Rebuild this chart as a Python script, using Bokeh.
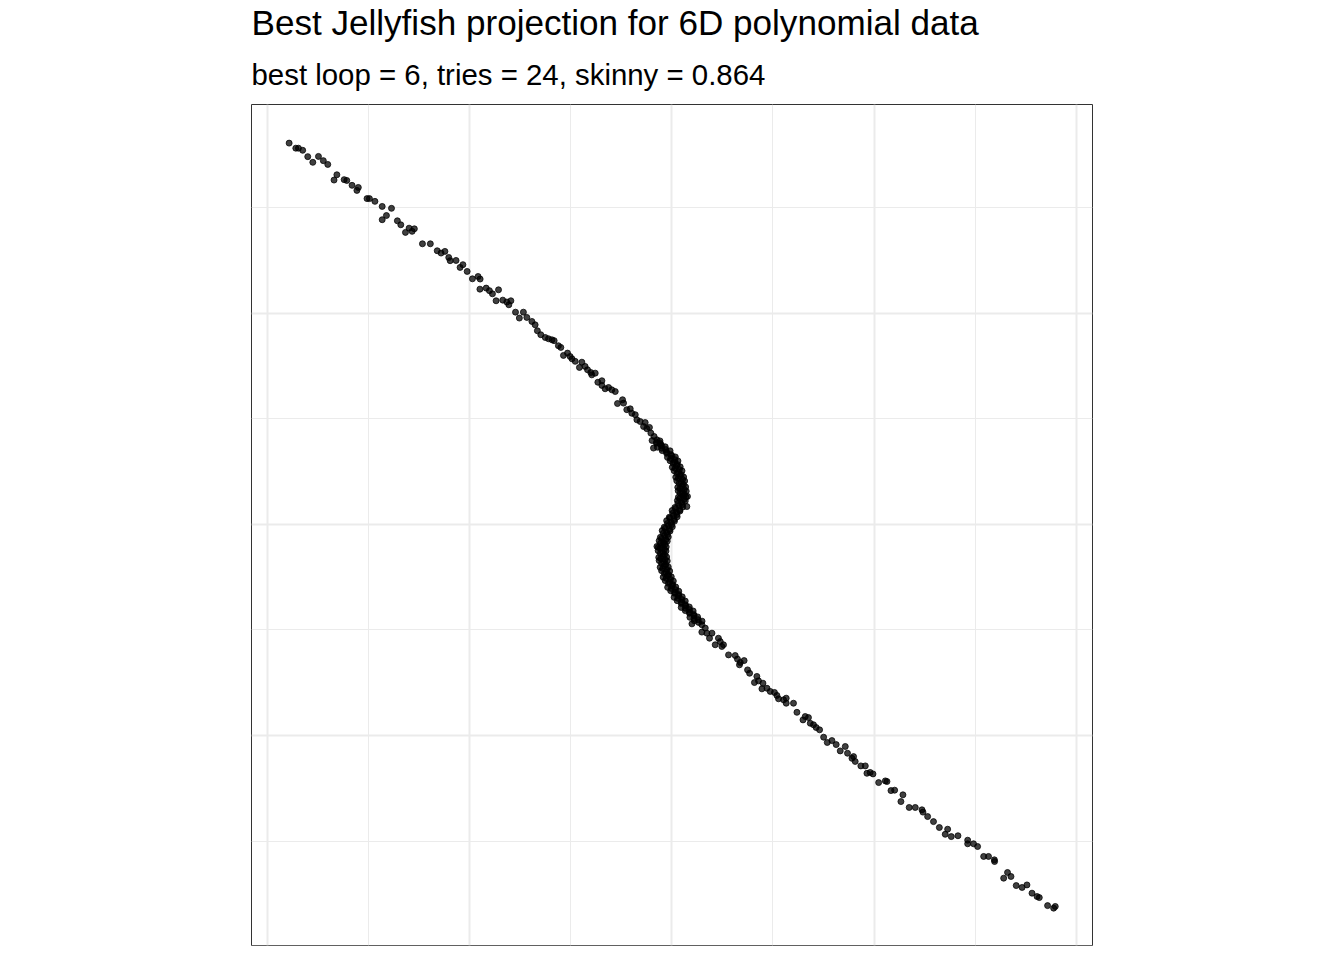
from bokeh.plotting import figure
from bokeh.models import FixedTicker, Range1d, Title
from bokeh.embed import file_html
from bokeh.resources import INLINE

title_text = "Best Jellyfish projection for 6D polynomial data"
subtitle_text = "best loop = 6, tries = 24, skinny = 0.864"

x_major = [-2, -1, 0, 1, 2]
x_minor = [-1.5, -0.5, 0.5, 1.5]
y_major = [-2, -1, 0, 1, 2]
y_minor = [-1.5, -0.5, 0.5, 1.5]

# upper arm (top left)
x_top = [-1.891, -1.858, -1.845, -1.824, -1.799, -1.774, -1.746, -1.722, -1.700, -1.669,
         -1.655, -1.619, -1.606, -1.580, -1.556, -1.549, -1.506, -1.494, -1.467, -1.431,
         -1.385, -1.410, -1.431, -1.356, -1.339, -1.316, -1.298, -1.283, -1.272, -1.232,
         -1.193, -1.159, -1.140, -1.121, -1.102, -1.095, -1.066, -1.046, -1.032, -1.011,
         -0.985, -0.957, -0.947, -0.948, -0.917, -0.901, -0.886, -0.856, -0.868, -0.835,
         -0.815, -0.795, -0.805, -0.772, -0.753, -0.733, -0.716, -0.691, -0.675, -0.664,
         -0.647, -0.625, -0.609, -0.592, -0.581, -0.560, -0.548, -0.535, -0.515, -0.502,
         -0.493, -0.477, -0.456, -0.444, -0.428, -0.416, -0.400, -0.378, -0.395, -0.365,
         -0.345, -0.345, -0.329, -0.312, -0.296, -0.279, -0.268, -0.243, -0.238, -0.222,
         -0.205, -0.197, -0.180, -0.172, -0.156, -0.131, -0.139, -0.123, -0.110, -0.103,
         -0.087, -0.073, -0.090, -0.057]
y_top = [1.807, 1.783, 1.783, 1.773, 1.743, 1.716, 1.744, 1.724, 1.706, 1.632,
         1.657, 1.634, 1.630, 1.607, 1.583, 1.597, 1.544, 1.544, 1.531, 1.507,
         1.498, 1.464, 1.444, 1.439, 1.420, 1.384, 1.404, 1.389, 1.401, 1.330,
         1.330, 1.297, 1.286, 1.294, 1.265, 1.250, 1.251, 1.218, 1.231, 1.199,
         1.164, 1.175, 1.163, 1.115, 1.120, 1.108, 1.093, 1.112, 1.060, 1.063,
         1.054, 1.060, 1.041, 1.006, 0.978, 1.006, 0.981, 0.962, 0.946, 0.918,
         0.899, 0.886, 0.880, 0.875, 0.871, 0.847, 0.839, 0.801, 0.812, 0.796,
         0.785, 0.773, 0.744, 0.769, 0.749, 0.733, 0.720, 0.717, 0.709, 0.674,
         0.681, 0.659, 0.643, 0.649, 0.638, 0.630, 0.573, 0.591, 0.575, 0.544,
         0.548, 0.527, 0.520, 0.496, 0.488, 0.483, 0.464, 0.454, 0.460, 0.433,
         0.417, 0.401, 0.362, 0.385]

# dense S bend in the middle
x_mid = [-0.097, -0.075, -0.058, -0.071, -0.050, -0.032, -0.047, -0.025, -0.008,
         -0.021, 0.001, 0.018, -0.008, 0.014, 0.031, 0.003, 0.024, 0.042,
         0.012, 0.033, 0.051, 0.020, 0.041, 0.059, 0.025, 0.047, 0.064,
         0.030, 0.051, 0.069, 0.032, 0.053, 0.072, 0.033, 0.054, 0.071,
         0.028, 0.049, 0.067, 0.016, 0.037, 0.055, 0.002, 0.024, 0.041,
         -0.012, 0.009, 0.027, -0.025, -0.003, 0.014, -0.037, -0.015, 0.003,
         -0.047, -0.025, -0.008, -0.056, -0.035, -0.017, -0.062, -0.040, -0.022,
         -0.066, -0.045, -0.027, -0.067, -0.045, -0.028, -0.064, -0.043, -0.025,
         -0.062, -0.040, -0.022, -0.057, -0.035, -0.017, -0.050, -0.028, -0.010,
         -0.042, -0.020, -0.002, -0.032, -0.010, 0.008, -0.020, 0.002, 0.020,
         -0.005, 0.017, 0.035, 0.012, 0.034, 0.052, 0.027, 0.049, 0.067,
         0.047, 0.069, 0.087, 0.067, 0.089, 0.106, 0.090, 0.111, 0.128,
         0.112, 0.133, 0.150, -0.073, 0.075, 0.078, 0.100,
         -0.075, -0.054, -0.050, -0.029, -0.025, -0.004, -0.005, 0.016,
         0.007, 0.028, 0.017, 0.038, 0.026, 0.047, 0.033, 0.054,
         0.037, 0.058, 0.041, 0.062, 0.042, 0.063, 0.040, 0.061,
         0.031, 0.052, 0.019, 0.040, 0.005, 0.026, -0.009, 0.012,
         -0.021, 0.000, -0.032, -0.011, -0.042, -0.021, -0.050, -0.029,
         -0.055, -0.034, -0.057, -0.036, -0.056, -0.035, -0.054, -0.033,
         -0.050, -0.029, -0.044, -0.023, -0.036, -0.015, -0.027, -0.006,
         -0.016, 0.005, -0.002, 0.019, 0.014, 0.035, 0.030, 0.051,
         0.047, 0.068, 0.067, 0.088, 0.088, 0.109, 0.110, 0.131]
y_mid = [0.398, 0.389, 0.396, 0.366, 0.374, 0.368, 0.350, 0.343, 0.349,
         0.318, 0.326, 0.320, 0.302, 0.295, 0.301, 0.271, 0.279, 0.273,
         0.255, 0.248, 0.254, 0.224, 0.231, 0.225, 0.207, 0.200, 0.206,
         0.176, 0.183, 0.178, 0.160, 0.152, 0.158, 0.129, 0.136, 0.130,
         0.113, 0.105, 0.111, 0.081, 0.089, 0.083, 0.066, 0.058, 0.064,
         0.034, 0.042, 0.036, 0.018, 0.010, 0.016, -0.013, -0.005, -0.011,
         -0.029, -0.037, -0.031, -0.061, -0.053, -0.059, -0.077, -0.085, -0.079,
         -0.108, -0.100, -0.106, -0.124, -0.132, -0.126, -0.156, -0.148, -0.154,
         -0.171, -0.179, -0.173, -0.203, -0.195, -0.201, -0.219, -0.227, -0.221,
         -0.250, -0.242, -0.248, -0.266, -0.274, -0.268, -0.298, -0.290, -0.296,
         -0.314, -0.322, -0.316, -0.345, -0.337, -0.343, -0.361, -0.369, -0.363,
         -0.393, -0.385, -0.391, -0.408, -0.416, -0.410, -0.440, -0.432, -0.438,
         -0.456, -0.464, -0.458, -0.104, 0.085, 0.133, -0.471,
         0.385, 0.379, 0.361, 0.355, 0.337, 0.331, 0.313, 0.307,
         0.290, 0.284, 0.266, 0.260, 0.242, 0.236, 0.219, 0.213,
         0.195, 0.189, 0.171, 0.165, 0.148, 0.142, 0.124, 0.118,
         0.100, 0.094, 0.076, 0.070, 0.053, 0.047, 0.029, 0.023,
         0.005, -0.001, -0.018, -0.024, -0.042, -0.048, -0.066, -0.072,
         -0.089, -0.095, -0.113, -0.119, -0.137, -0.143, -0.161, -0.167,
         -0.184, -0.190, -0.208, -0.214, -0.232, -0.238, -0.255, -0.261,
         -0.279, -0.285, -0.303, -0.309, -0.326, -0.332, -0.350, -0.356,
         -0.374, -0.380, -0.397, -0.403, -0.421, -0.427, -0.445, -0.451]

# lower arm (bottom right)
x_low = [0.149, 0.149, 0.166, 0.174, 0.187, 0.199, 0.215, 0.231, 0.240, 0.256,
         0.248, 0.281, 0.314, 0.325, 0.339, 0.358, 0.335, 0.375, 0.385, 0.421,
         0.429, 0.409, 0.451, 0.446, 0.471, 0.487, 0.508, 0.520, 0.528, 0.553,
         0.566, 0.566, 0.602, 0.619, 0.649, 0.660, 0.676, 0.685, 0.701, 0.714,
         0.731, 0.751, 0.792, 0.769, 0.813, 0.833, 0.858, 0.869, 0.891, 0.899,
         0.907, 0.935, 0.957, 0.965, 0.981, 0.995, 1.023, 1.056, 1.064, 1.084,
         1.102, 1.133, 1.143, 1.174, 1.204, 1.237, 1.242, 1.265, 1.294, 1.323,
         1.352, 1.364, 1.382, 1.415, 1.463, 1.463, 1.492, 1.512, 1.542, 1.566,
         1.596, 1.595, 1.641, 1.660, 1.677, 1.703, 1.732, 1.756, 1.781, 1.806,
         1.817, 1.858, 1.888, 1.896]
y_low = [-0.475, -0.510, -0.491, -0.515, -0.539, -0.515, -0.570, -0.539, -0.555, -0.570,
         -0.578, -0.618, -0.621, -0.638, -0.654, -0.645, -0.665, -0.689, -0.705, -0.720,
         -0.741, -0.749, -0.752, -0.779, -0.776, -0.791, -0.796, -0.810, -0.826, -0.831,
         -0.823, -0.847, -0.847, -0.890, -0.926, -0.910, -0.915, -0.942, -0.949, -0.962,
         -0.973, -1.008, -1.024, -1.033, -1.043, -1.073, -1.052, -1.084, -1.108, -1.100,
         -1.123, -1.144, -1.144, -1.179, -1.175, -1.182, -1.223, -1.215, -1.218, -1.261,
         -1.259, -1.313, -1.281, -1.341, -1.341, -1.352, -1.363, -1.384, -1.408, -1.436,
         -1.468, -1.444, -1.479, -1.475, -1.496, -1.513, -1.513, -1.526, -1.573, -1.573,
         -1.597, -1.589, -1.676, -1.649, -1.668, -1.711, -1.720, -1.708, -1.747, -1.763,
         -1.768, -1.806, -1.818, -1.810]

x = x_top + x_mid + x_low
y = y_top + y_mid + y_low

p = figure(frame_width=841, frame_height=841,
           min_border_left=251, min_border_right=240,
           min_border_top=104, min_border_bottom=10,
           x_range=Range1d(-2.077, 2.080), y_range=Range1d(-1.995, 1.990),
           output_backend="svg", toolbar_location=None,
           background_fill_color="white", border_fill_color="white")
p.title.visible = False

p.xaxis.ticker = FixedTicker(ticks=x_major, minor_ticks=x_minor)
p.yaxis.ticker = FixedTicker(ticks=y_major, minor_ticks=y_minor)
p.xaxis.visible = False
p.yaxis.visible = False

for g in (p.xgrid, p.ygrid):
    g.grid_line_color = "#ebebeb"
    g.grid_line_width = 2
    g.minor_grid_line_color = "#ebebeb"
    g.minor_grid_line_width = 1

p.outline_line_color = "#333333"
p.outline_line_width = 1

p.scatter(x, y, size=6, fill_color="black", fill_alpha=0.75,
          line_color="black", line_alpha=0.75, line_width=1)

# subtitle first so it sits next to the frame, main title above it
p.add_layout(Title(text=subtitle_text, text_font="Liberation Sans",
                   text_font_size="29.4px", text_font_style="normal",
                   text_color="black", align="left", standoff=28), "above")
p.add_layout(Title(text=title_text, text_font="Liberation Sans",
                   text_font_size="35.1px", text_font_style="normal",
                   text_color="black", align="left", standoff=0), "above")

open("out.html", "w").write(file_html(p, INLINE))
